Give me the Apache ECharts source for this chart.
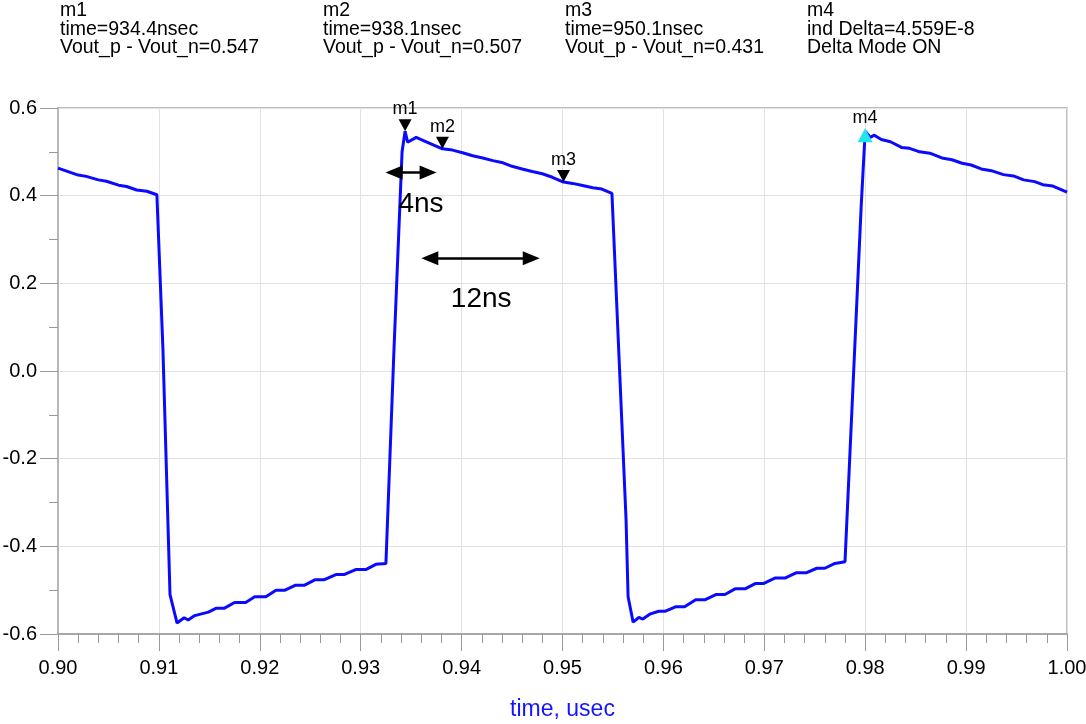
<!DOCTYPE html>
<html>
<head>
<meta charset="utf-8">
<script src="https://cdn.jsdelivr.net/npm/echarts@6/dist/echarts.min.js"></script>
<style>
  html, body { margin: 0; padding: 0; background: #fff; }
  #chart { width: 1086px; height: 724px; }
</style>
</head>
<body>
<div id="chart"></div>
<script>
// time axis in usec, waveform Vout_p - Vout_n
const timeUs = [
  0.9000, 0.9020, 0.9028, 0.9040, 0.9048, 0.9060, 0.9068, 0.9078, 0.9088, 0.9098,
  0.9104, 0.9111, 0.9118,
  0.9125, 0.9129, 0.91355, 0.9149, 0.9157, 0.9165, 0.9175, 0.9186, 0.9195, 0.9206,
  0.9216, 0.9225, 0.9235, 0.9244, 0.9255, 0.9264, 0.9276, 0.9284, 0.9295, 0.9305,
  0.9315, 0.9325,
  0.9333, 0.9341, 0.9344,
  0.93465, 0.9355, 0.9365, 0.9381, 0.9391, 0.9401, 0.9411, 0.9421, 0.9431, 0.9441,
  0.9450, 0.9460, 0.9470, 0.9480, 0.9490, 0.9501, 0.9510, 0.9520, 0.9530, 0.9539,
  0.9549,
  0.9563, 0.9565, 0.9570,
  0.95757, 0.95796, 0.95872, 0.95954, 0.9602, 0.9612, 0.9621, 0.9632, 0.9641, 0.9652,
  0.9661, 0.9671, 0.9681, 0.9691, 0.9699, 0.9711, 0.9721, 0.9732, 0.9742, 0.9752,
  0.9760, 0.9770, 0.9780,
  0.9796, 0.9800,
  0.9805, 0.9809, 0.9816, 0.9825, 0.9836, 0.9844, 0.9854, 0.9864, 0.9876, 0.9886,
  0.9896, 0.9905, 0.9915, 0.9925, 0.9937, 0.9947, 0.9957, 0.9968, 0.9976, 0.9986,
  1.0000
];
const vout = [
  0.463, 0.447, 0.444, 0.436, 0.433, 0.424, 0.421, 0.413, 0.410, 0.402,
  0.050, -0.510, -0.575,
  -0.563, -0.568, -0.558, -0.550, -0.541, -0.541, -0.528, -0.528, -0.515, -0.515,
  -0.500, -0.500, -0.489, -0.489, -0.476, -0.476, -0.464, -0.464, -0.453, -0.453,
  -0.441, -0.439,
  0.050, 0.500, 0.547,
  0.522, 0.533, 0.523, 0.507, 0.504, 0.498, 0.491, 0.486, 0.480, 0.475,
  0.467, 0.461, 0.455, 0.450, 0.442, 0.431, 0.428, 0.423, 0.418, 0.415,
  0.405,
  -0.340, -0.515, -0.573,
  -0.562, -0.566, -0.554, -0.548, -0.548, -0.538, -0.538, -0.522, -0.522, -0.510,
  -0.510, -0.497, -0.497, -0.485, -0.485, -0.472, -0.472, -0.460, -0.460, -0.450,
  -0.450, -0.439, -0.435,
  0.375, 0.547,
  0.533, 0.538, 0.528, 0.523, 0.510, 0.508, 0.500, 0.497, 0.486, 0.482,
  0.474, 0.470, 0.461, 0.457, 0.448, 0.445, 0.436, 0.432, 0.425, 0.422,
  0.408
];

// markers
const markerNames = ["m1", "m2", "m3", "m4"];
const markerTime = [0.9344, 0.9381, 0.9501, 0.97999];
const markerValue = [0.547, 0.507, 0.431, 0.547];

// header readouts
const headerLines = [
  ["m1", "time=934.4nsec", "Vout_p - Vout_n=0.547"],
  ["m2", "time=938.1nsec", "Vout_p - Vout_n=0.507"],
  ["m3", "time=950.1nsec", "Vout_p - Vout_n=0.431"],
  ["m4", "ind Delta=4.559E-8", "Delta Mode ON"]
];

// span annotations (drawn arrows + text), in axis units
const spanLabels = ["4ns", "12ns"];
const spanStart = [0.93330, 0.93685];
const spanEnd = [0.93668, 0.94690];
const spanLevel = [0.453, 0.257];
const spanTextPos = [[0.93598, 0.381], [0.94194, 0.164]];

const font = '"Liberation Sans", Arial, sans-serif';
const headerX = [60, 323, 565, 807];

let chart = echarts.init(document.getElementById("chart"));

let lineData = timeUs.map((t, i) => [t, vout[i]]);

let markerData = markerNames.map((n, i) => {
  let item = { name: n, value: [markerTime[i], markerValue[i]] };
  if (n === "m4") {
    item.symbol = "triangle";
    item.symbolSize = [15, 14];
    item.symbolOffset = [0, 4];
    item.itemStyle = { color: "#22e4ee", opacity: 1 };
  }
  return item;
});

let option = {
  animation: false,
  backgroundColor: "#fff",
  textStyle: { fontFamily: font },
  graphic: headerLines.map((lines, i) => ({
    type: "text",
    left: headerX[i],
    top: 1,
    style: {
      text: lines.join("\n"),
      font: "19.5px " + font,
      lineHeight: 18.5,
      fill: "#000"
    }
  })),
  grid: {
    left: 58,
    right: 19,
    top: 108,
    bottom: 90,
    show: true,
    borderColor: "#a8a8a8",
    borderWidth: 1.5,
    containLabel: false,
    outerBoundsMode: "none"
  },
  xAxis: {
    type: "value",
    min: 0.9,
    max: 1.0,
    interval: 0.01,
    name: "time, usec",
    nameLocation: "middle",
    nameGap: 64,
    nameTextStyle: { color: "#1414ff", fontSize: 23, fontFamily: font },
    axisLine: { show: true, onZero: false, lineStyle: { color: "#a8a8a8", width: 2 } },
    axisTick: { show: true, inside: false, length: 17, lineStyle: { color: "#999" } },
    minorTick: { show: true, splitNumber: 5, length: 9, lineStyle: { color: "#999" } },
    axisLabel: {
      color: "#000",
      fontSize: 20,
      margin: 24,
      formatter: v => v.toFixed(2)
    },
    splitLine: { show: true, lineStyle: { color: "#e2e2e2", width: 1 } },
    minorSplitLine: { show: false }
  },
  yAxis: {
    type: "value",
    min: -0.6,
    max: 0.6,
    interval: 0.2,
    axisLine: { show: true, onZero: false, lineStyle: { color: "#b8b8b8", width: 2 } },
    axisTick: { show: true, inside: false, length: 18, lineStyle: { color: "#999" } },
    minorTick: { show: true, splitNumber: 2, length: 9, lineStyle: { color: "#999" } },
    axisLabel: {
      color: "#000",
      fontSize: 20,
      margin: 21,
      formatter: v => (Math.abs(v) < 1e-9 ? "0.0" : v.toFixed(1))
    },
    splitLine: { show: true, lineStyle: { color: "#e2e2e2", width: 1 } },
    minorSplitLine: { show: false }
  },
  series: [
    {
      name: "Vout_p - Vout_n",
      type: "line",
      data: lineData,
      showSymbol: false,
      symbol: "none",
      lineStyle: { color: "#0a0aff", width: 3 },
      z: 3,
      markLine: {
        silent: true,
        symbol: ["triangle", "triangle"],
        symbolSize: [14, 17],
        lineStyle: { color: "#000", width: 2.5, type: "solid" },
        label: { show: false },
        data: spanLabels.map((s, i) => [
          { coord: [spanStart[i], spanLevel[i]] },
          { coord: [spanEnd[i], spanLevel[i]] }
        ])
      },
      markPoint: {
        silent: true,
        symbol: "circle",
        symbolSize: 0,
        itemStyle: { color: "transparent" },
        label: {
          show: true,
          position: "inside",
          color: "#000",
          fontSize: 28,
          fontFamily: font,
          formatter: p => p.name
        },
        data: spanLabels.map((s, i) => ({ name: s, coord: spanTextPos[i] }))
      }
    },
    {
      name: "markers",
      type: "scatter",
      data: markerData,
      symbol: "path://M0,0 L10,0 L5,9 Z",
      symbolSize: [13, 12],
      symbolOffset: [0, -6],
      itemStyle: { color: "#000", opacity: 1 },
      z: 5,
      label: {
        show: true,
        position: "top",
        distance: 1,
        color: "#000",
        fontSize: 18,
        fontFamily: font,
        formatter: p => p.name
      }
    }
  ]
};

chart.setOption(option);
</script>
</body>
</html>
